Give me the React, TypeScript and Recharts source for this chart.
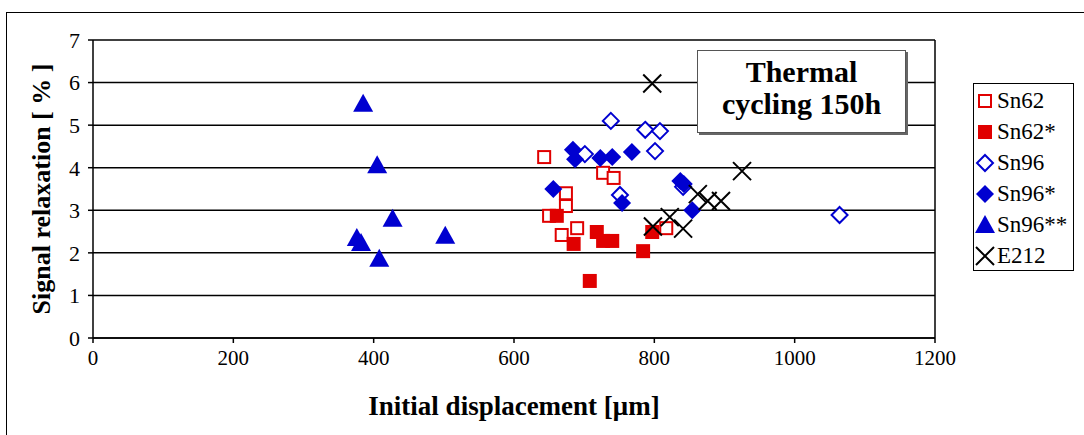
import { CartesianGrid, ReferenceLine, Scatter, ScatterChart, XAxis, YAxis } from "recharts";

type Pt = { x: number; y: number };

const X_TICKS = [0, 200, 400, 600, 800, 1000, 1200];
const Y_TICKS = [0, 1, 2, 3, 4, 5, 6, 7];

const sn62: Pt[] = [
  { x: 643, y: 4.25 }, { x: 727, y: 3.88 }, { x: 742, y: 3.76 }, { x: 674, y: 3.4 },
  { x: 674, y: 3.1 }, { x: 650, y: 2.87 }, { x: 690, y: 2.58 }, { x: 668, y: 2.42 },
  { x: 817, y: 2.58 },
];
const sn62s: Pt[] = [
  { x: 661, y: 2.87 }, { x: 718, y: 2.49 }, { x: 685, y: 2.21 }, { x: 727, y: 2.28 },
  { x: 740, y: 2.28 }, { x: 797, y: 2.49 }, { x: 784, y: 2.04 }, { x: 708, y: 1.34 },
];
const sn96: Pt[] = [
  { x: 738, y: 5.1 }, { x: 787, y: 4.89 }, { x: 808, y: 4.86 }, { x: 801, y: 4.39 },
  { x: 701, y: 4.32 }, { x: 751, y: 3.36 }, { x: 841, y: 3.55 }, { x: 1064, y: 2.89 },
];
const sn96s: Pt[] = [
  { x: 684, y: 4.42 }, { x: 687, y: 4.2 }, { x: 723, y: 4.23 }, { x: 740, y: 4.25 },
  { x: 768, y: 4.37 }, { x: 656, y: 3.5 }, { x: 754, y: 3.17 }, { x: 837, y: 3.69 },
  { x: 842, y: 3.62 }, { x: 854, y: 3.0 },
];
const sn96ss: Pt[] = [
  { x: 385, y: 5.5 }, { x: 405, y: 4.06 }, { x: 427, y: 2.8 }, { x: 502, y: 2.4 },
  { x: 376, y: 2.35 }, { x: 382, y: 2.23 }, { x: 408, y: 1.86 },
];
const e212: Pt[] = [
  { x: 797, y: 5.98 }, { x: 925, y: 3.92 }, { x: 798, y: 2.62 }, { x: 822, y: 2.84 },
  { x: 841, y: 2.57 }, { x: 862, y: 3.38 }, { x: 876, y: 3.22 }, { x: 895, y: 3.22 },
];

const RED = "#e00000";
const BLUE = "#0000d0";
const FONT = "'Liberation Serif', 'Times New Roman', serif";

function Marker({ kind, cx, cy }: { kind: string; cx: number; cy: number }) {
  switch (kind) {
    case "openSq":
      return <rect x={cx - 6} y={cy - 6} width={12} height={12} fill="#fff" stroke={RED} strokeWidth={2} />;
    case "fillSq":
      return <rect x={cx - 7} y={cy - 7} width={14} height={14} fill={RED} />;
    case "openDia":
      return <path d={`M${cx},${cy - 8}L${cx + 8},${cy}L${cx},${cy + 8}L${cx - 8},${cy}Z`} fill="#fff" stroke={BLUE} strokeWidth={2} />;
    case "fillDia":
      return <path d={`M${cx},${cy - 9}L${cx + 9},${cy}L${cx},${cy + 9}L${cx - 9},${cy}Z`} fill={BLUE} />;
    case "tri":
      return <path d={`M${cx},${cy - 10}L${cx + 10},${cy + 8}L${cx - 10},${cy + 8}Z`} fill={BLUE} />;
    default:
      return (
        <path d={`M${cx - 9},${cy - 9}L${cx + 9},${cy + 9}M${cx + 9},${cy - 9}L${cx - 9},${cy + 9}`} stroke="#000" strokeWidth={2} fill="none" />
      );
  }
}

const SERIES = [
  { name: "Sn62", data: sn62, kind: "openSq" },
  { name: "Sn62*", data: sn62s, kind: "fillSq" },
  { name: "Sn96", data: sn96, kind: "openDia" },
  { name: "Sn96*", data: sn96s, kind: "fillDia" },
  { name: "Sn96**", data: sn96ss, kind: "tri" },
  { name: "E212", data: e212, kind: "x" },
];

function LegendBox() {
  return (
    <div
      style={{
        position: "absolute", left: 973, top: 83, border: "1px solid #000", background: "#fff",
        width: 101, height: 188, boxSizing: "border-box", paddingTop: 1,
      }}
    >
      {SERIES.map((s) => (
        <div key={s.name} style={{ display: "flex", alignItems: "center", height: 31, fontFamily: FONT, fontSize: 23, color: "#000" }}>
          <svg width={20} height={22} style={{ marginLeft: 1, marginRight: 2 }}>
            <Marker kind={s.kind} cx={10} cy={11} />
          </svg>
          <span>{s.name}</span>
        </div>
      ))}
    </div>
  );
}

export default function App() {
  return (
    <div style={{ position: "absolute", left: 0, top: 0, width: 1084, height: 435, overflow: "hidden", background: "#fff" }}>
      <div style={{ position: "absolute", left: 6, top: 12, width: 1090, height: 500, border: "1px solid #000" }} />
      <div style={{ position: "absolute", left: 0, top: 0 }}>
        <ScatterChart width={1084} height={435} margin={{ top: 40, right: 149, bottom: 67, left: 53 }}>
          <CartesianGrid vertical={false} stroke="#000" strokeWidth={1.5} strokeOpacity={1} />
          <XAxis
            type="number"
            dataKey="x"
            domain={[0, 1200]}
            ticks={X_TICKS}
            interval={0}
            height={30}
            tickSize={5}
            stroke="#000"
            strokeWidth={1.5}
            tick={{ fill: "#000", fontFamily: FONT, fontSize: 21, dy: 5 }}
          />
          <YAxis
            type="number"
            dataKey="y"
            domain={[0, 7]}
            ticks={Y_TICKS}
            interval={0}
            width={40}
            tickSize={5}
            stroke="#000"
            strokeWidth={1.5}
            tick={{ fill: "#000", fontFamily: FONT, fontSize: 22, dx: -6 }}
          />
          <ReferenceLine x={1200} stroke="#000" strokeWidth={1.5} />
          {SERIES.map((s) => (
            <Scatter
              key={s.name}
              name={s.name}
              data={s.data}
              isAnimationActive={false}
              shape={(p: any) => <Marker kind={s.kind} cx={p.cx} cy={p.cy} />}
            />
          ))}
        </ScatterChart>
      </div>
      <LegendBox />
      <div
        style={{
          position: "absolute", left: 697, top: 50, width: 209, height: 83, boxSizing: "border-box",
          border: "1px solid #555", background: "#fff", boxShadow: "2px 2px 0 #666",
          fontFamily: FONT, fontWeight: "bold", fontSize: 30, lineHeight: "32px", textAlign: "center",
          paddingTop: 5, color: "#000",
        }}
      >
        Thermal
        <br />
        cycling 150h
      </div>
      <div
        style={{
          position: "absolute", left: 93, width: 842, top: 391, textAlign: "center",
          fontFamily: FONT, fontWeight: "bold", fontSize: 27, color: "#000",
        }}
      >
        Initial displacement [μm]
      </div>
      <div
        style={{
          position: "absolute", left: 42, top: 189, transform: "translate(-50%, -50%) rotate(-90deg)",
          whiteSpace: "nowrap", fontFamily: FONT, fontWeight: "bold", fontSize: 26, color: "#000",
        }}
      >
        Signal relaxation [ % ]
      </div>
    </div>
  );
}
